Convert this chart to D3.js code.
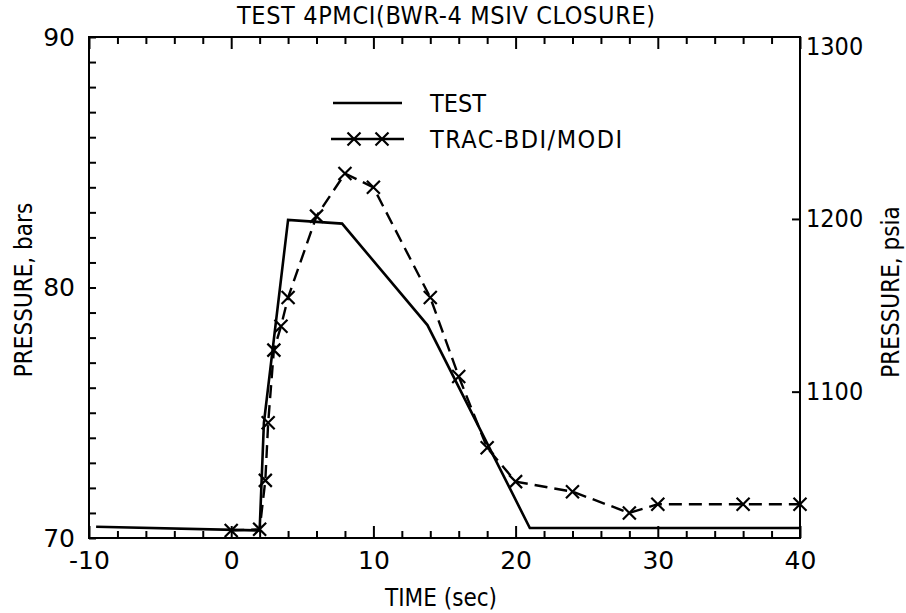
<!DOCTYPE html>
<html>
<head>
<meta charset="utf-8">
<script src="https://cdn.jsdelivr.net/npm/d3@7"></script>
<style>
  body { margin: 0; background: #fff; }
  text { font-family: "DejaVu Sans Condensed", "DejaVu Sans", sans-serif; fill: #000; }
</style>
</head>
<body>
<div id="chart"></div>
<script>
// data (time in s, pressure in bars)
const testTime  = [-9.5, 2.0, 2.3, 4.0, 7.8, 13.8, 21.0, 40];
const testBars  = [70.45, 70.3, 74.6, 82.7, 82.55, 78.5, 70.4, 70.4];
const tracTime  = [0, 2, 2.4, 2.6, 3.0, 3.5, 4.0, 6, 8, 10, 14, 16, 18, 20, 24, 28, 30, 36, 40];
const tracBars  = [70.3, 70.35, 72.3, 74.6, 77.5, 78.45, 79.6, 82.85, 84.55, 84.0, 79.6, 76.45, 73.6, 72.25, 71.85, 71.0, 71.35, 71.35, 71.35];
const xLabels   = [-10, 0, 10, 20, 30, 40];
const yLabels   = [70, 80, 90];
const psiLabels = [1100, 1200, 1300];
const seriesNames = ["TEST", "TRAC-BDI/MODI"];

const W = 906, H = 613;
const plotL = 89, plotR = 800, plotT = 37, plotB = 538;

const svg = d3.select("#chart").append("svg")
    .attr("width", W)
    .attr("height", H);

const x = d3.scaleLinear().domain([-10, 40]).range([plotL, plotR]);
const y = d3.scaleLinear().domain([70, 90]).range([plotB, plotT]);
const psiPerBar = 14.5038;
const yPsi = d3.scaleLinear().domain([70 * psiPerBar, 90 * psiPerBar]).range([plotB, plotT]);

// frame
svg.append("rect")
    .attr("x", plotL).attr("y", plotT)
    .attr("width", plotR - plotL).attr("height", plotB - plotT)
    .attr("fill", "none").attr("stroke", "#000").attr("stroke-width", 2);

// bottom axis: minor ticks every 2 s, major every 10 s
const minorX = d3.range(-10, 41, 2).filter(v => v % 10 !== 0);
svg.append("g").attr("transform", `translate(0,${plotB})`)
    .call(d3.axisBottom(x).tickValues(minorX).tickSize(-7).tickFormat(""));
svg.append("g").attr("class", "xmaj").attr("transform", `translate(0,${plotB})`)
    .call(d3.axisBottom(x).tickValues(xLabels).tickSize(-12).tickPadding(13).tickFormat(d => d < 0 ? "-" + Math.abs(d) : d));
// top axis
svg.append("g").attr("transform", `translate(0,${plotT})`)
    .call(d3.axisTop(x).tickValues(minorX).tickSize(-7).tickFormat(""));
svg.append("g").attr("transform", `translate(0,${plotT})`)
    .call(d3.axisTop(x).tickValues(xLabels).tickSize(-12).tickFormat(""));

// left axis: tick every bar
svg.append("g").attr("class", "ylab").attr("transform", `translate(${plotL},0)`)
    .call(d3.axisLeft(y).tickValues(d3.range(70, 91, 1)).tickSize(-7).tickPadding(14)
        .tickFormat(d => yLabels.includes(d) ? d : ""));

// right axis in psia
svg.append("g").attr("class", "psi").attr("transform", `translate(${plotR},0)`)
    .call(d3.axisRight(yPsi).tickValues(psiLabels).tickSize(-8).tickFormat(d3.format("d")));

svg.selectAll(".domain").remove();
svg.selectAll(".tick line").attr("stroke", "#000").attr("stroke-width", 2);
svg.selectAll(".tick text").style("font-size", "25px").style("font-family", "'DejaVu Sans', sans-serif");
svg.selectAll(".psi .tick").filter(d => d === 1300).select("line").remove();
svg.selectAll(".psi .tick text").attr("x", 6)
    .style("font-family", "'DejaVu Sans Condensed', sans-serif");

// lines
const line = d3.line().x(d => x(d[0])).y(d => y(d[1]));
const testData = testTime.map((t, i) => [t, testBars[i]]);
const tracData = tracTime.map((t, i) => [t, tracBars[i]]);

svg.append("path").datum(testData)
    .attr("d", line)
    .attr("fill", "none").attr("stroke", "#000").attr("stroke-width", 2.6)
    .attr("stroke-linejoin", "miter");

svg.append("path").datum(tracData)
    .attr("d", line)
    .attr("fill", "none").attr("stroke", "#000").attr("stroke-width", 2.4)
    .attr("stroke-dasharray", "13,7");

// x markers
const cross = (g, cx, cy, r) => {
    g.append("path")
        .attr("d", `M${cx - r},${cy - r}L${cx + r},${cy + r}M${cx - r},${cy + r}L${cx + r},${cy - r}`)
        .attr("stroke", "#000").attr("stroke-width", 2.2).attr("fill", "none");
};
const marks = svg.append("g");
tracData.forEach(d => cross(marks, x(d[0]), y(d[1]), 6.5));

// legend
const lg = svg.append("g");
lg.append("line").attr("x1", 333).attr("x2", 402).attr("y1", 103).attr("y2", 103)
    .attr("stroke", "#000").attr("stroke-width", 2.6);
lg.append("text").attr("x", 430).attr("y", 103).attr("dy", "0.36em")
    .style("font-size", "25px").text(seriesNames[0]);
lg.append("line").attr("x1", 331).attr("x2", 404).attr("y1", 139).attr("y2", 139)
    .attr("stroke", "#000").attr("stroke-width", 2.4);
cross(lg, 354, 139, 6.5);
cross(lg, 382, 139, 6.5);
lg.append("text").attr("x", 430).attr("y", 139).attr("dy", "0.36em")
    .style("font-size", "25px").style("letter-spacing", "1.5px").text(seriesNames[1]);

// titles
svg.append("text").attr("x", 446).attr("y", 24).attr("text-anchor", "middle")
    .style("font-size", "25px").attr("textLength", 418)
    .text("TEST 4PMCI(BWR-4 MSIV CLOSURE)");
svg.append("text").attr("x", 441).attr("y", 606).attr("text-anchor", "middle")
    .style("font-size", "24px")
    .text("TIME (sec)");
svg.append("text").attr("transform", "translate(32,290) rotate(-90)").attr("text-anchor", "middle")
    .style("font-size", "24px")
    .text("PRESSURE, bars");
svg.append("text").attr("transform", "translate(899,292) rotate(-90)").attr("text-anchor", "middle")
    .style("font-size", "24px")
    .text("PRESSURE, psia");
</script>
</body>
</html>
